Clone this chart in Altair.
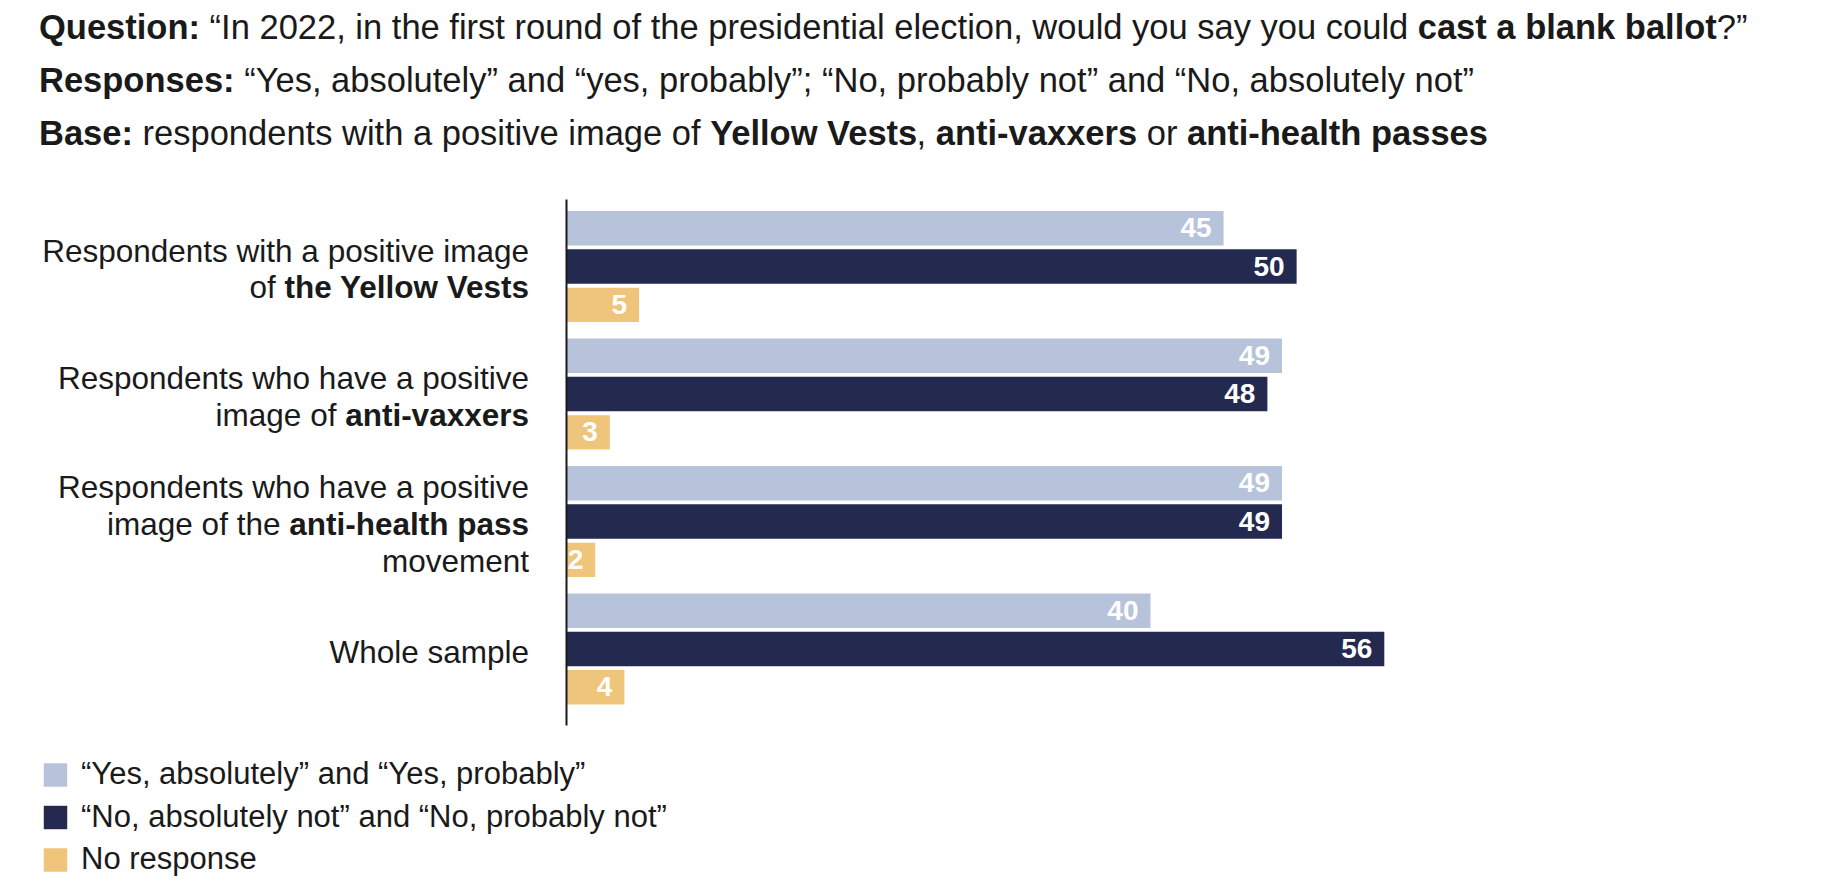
import altair as alt
import pandas as pd

# ---------------- data ----------------
groups = [
    "Respondents with a positive image of the Yellow Vests",
    "Respondents who have a positive image of anti-vaxxers",
    "Respondents who have a positive image of the anti-health pass movement",
    "Whole sample",
]
series = [
    "\u201cYes, absolutely\u201d and \u201cYes, probably\u201d",
    "\u201cNo, absolutely not\u201d and \u201cNo, probably not\u201d",
    "No response",
]
yes_vals = [45, 49, 49, 40]
no_vals = [50, 48, 49, 56]
nr_vals = [5, 3, 2, 4]
colors = ["#b6c3da", "#24294f", "#efc57c"]

# category label lines: (text, bold)
label_lines = [
    [[("Respondents with a positive image", False)],
     [("of ", False), ("the Yellow Vests", True)]],
    [[("Respondents who have a positive", False)],
     [("image of ", False), ("anti-vaxxers", True)]],
    [[("Respondents who have a positive", False)],
     [("image of the ", False), ("anti-health pass", True)],
     [("movement", False)]],
    [[("Whole sample", False)]],
]

title_lines = [
    [("Question:", True),
     (" \u201cIn 2022, in the first round of the presidential election, would you say you could ", False),
     ("cast a blank ballot", True), ("?\u201d", False)],
    [("Responses:", True),
     (" \u201cYes, absolutely\u201d and \u201cyes, probably\u201d; \u201cNo, probably not\u201d and \u201cNo, absolutely not\u201d", False)],
    [("Base:", True), (" respondents with a positive image of ", False), ("Yellow Vests", True),
     (", ", False), ("anti-vaxxers", True), (" or ", False), ("anti-health passes", True)],
]

# ---------------- layout / style ----------------
FONT = "Liberation Sans, Arial, sans-serif"
TXT = "#1a1a1a"
W, H = 1169, 526
XMAX = 80
PPU = W / XMAX
PAD = {"left": 558, "top": 191, "right": 94, "bottom": 163}
TITLE_SIZE = 34.5
LABEL_SIZE = 31.5
LEGEND_SIZE = 31
VALUE_SIZE = 28
LABEL_RIGHT = -37
LABEL_LH = 36.7
TITLE_X = -527
TITLE_BASE = [-160, -107, -54]

# Arial-compatible (Liberation Sans) advance widths, 1/1000 em
REG = dict(zip("abcdefghijklmnopqrstuvwxyz",
               [556, 556, 500, 556, 556, 278, 556, 556, 222, 222, 500, 222, 833,
                556, 556, 556, 556, 333, 500, 278, 556, 500, 722, 500, 500, 500]))
REG.update(dict(zip("ABCDEFGHIJKLMNOPQRSTUVWXYZ",
                    [667, 667, 722, 722, 667, 611, 778, 722, 278, 500, 667, 556, 833,
                     722, 778, 667, 778, 722, 667, 611, 722, 667, 944, 667, 667, 611])))
REG.update({" ": 278, ",": 278, ".": 278, ":": 278, ";": 278, "?": 556, "-": 333,
            "\u201c": 333, "\u201d": 333})
REG.update({d: 556 for d in "0123456789"})
BLD = dict(zip("abcdefghijklmnopqrstuvwxyz",
               [556, 611, 556, 611, 556, 333, 611, 611, 278, 278, 556, 278, 889,
                611, 611, 611, 611, 389, 556, 333, 611, 556, 778, 556, 556, 500]))
BLD.update(dict(zip("ABCDEFGHIJKLMNOPQRSTUVWXYZ",
                    [722, 722, 722, 722, 667, 611, 778, 722, 278, 556, 722, 611, 833,
                     722, 778, 667, 778, 722, 667, 611, 722, 667, 944, 667, 667, 611])))
BLD.update({" ": 278, ",": 278, ".": 278, ":": 333, ";": 333, "?": 611, "-": 333,
            "\u201c": 500, "\u201d": 500})
BLD.update({d: 556 for d in "0123456789"})
# approximate kerning pairs applied by the browser
KERN = {"Ye": -80, "Yo": -80, "Ya": -80, "Ve": -50, "Vo": -50, "Va": -50}


def tw(text, bold, size):
    t = BLD if bold else REG
    total = sum(t.get(c, 556) for c in text)
    total += sum(KERN.get(text[i:i + 2], 0) for i in range(len(text) - 1))
    return total / 1000.0 * size


# ---------------- bar data ----------------
rows = []
for gi, g in enumerate(groups):
    for s, vals in zip(series, [yes_vals, no_vals, nr_vals]):
        rows.append({"group": g, "series": s, "value": vals[gi]})
df = pd.DataFrame(rows)

y_enc = alt.Y("group:N", sort=groups,
              scale=alt.Scale(paddingInner=0.1294, paddingOuter=0.1275, align=0.37),
              axis=alt.Axis(title=None, labels=False, ticks=False, grid=False,
                            domain=True, domainColor=TXT, domainWidth=2, zindex=1))
yoff_enc = alt.YOffset("series:N", sort=series,
                       scale=alt.Scale(paddingInner=0.102, paddingOuter=0))
x_scale = alt.Scale(domain=[0, XMAX])

bars = alt.Chart(df).mark_bar(cornerRadius=0).encode(
    y=y_enc,
    yOffset=yoff_enc,
    x=alt.X("value:Q", scale=x_scale, axis=None),
    color=alt.Color("series:N", sort=series,
                    scale=alt.Scale(domain=series, range=colors),
                    legend=alt.Legend(title=None, orient="none", legendX=-526, legendY=560.5,
                                      direction="vertical", symbolType="square",
                                      symbolSize=550, symbolStrokeWidth=0, symbolOpacity=1,
                                      labelFont=FONT, labelFontSize=LEGEND_SIZE,
                                      labelColor=TXT, labelOffset=10, labelLimit=1000,
                                      rowPadding=10.5, padding=0)),
)

values = alt.Chart(df).mark_text(align="right", baseline="middle", dx=-12, dy=1,
                                 font=FONT, fontWeight="bold", fontSize=VALUE_SIZE,
                                 color="white").encode(
    y=y_enc, yOffset=yoff_enc,
    x=alt.X("value:Q", scale=x_scale, axis=None),
    text=alt.Text("value:Q"),
)

layers = [bars, values]

# ---------------- category labels ----------------
lab_rows = []
for g, lines in zip(groups, label_lines):
    n = len(lines)
    for i, segs in enumerate(lines):
        dy = round((i - (n - 1) / 2) * LABEL_LH + 13.5, 2)
        end = LABEL_RIGHT
        for text, bold in reversed(segs):
            shown = text.rstrip()
            trail = tw(text[len(shown):], bold, LABEL_SIZE)
            lab_rows.append({"group": g, "text": shown, "bold": bold, "dy": dy,
                             "xd": (end - trail) / PPU})
            end -= tw(text, bold, LABEL_SIZE)
lab_df = pd.DataFrame(lab_rows)
for (dy, bold), sub in lab_df.groupby(["dy", "bold"]):
    layers.append(
        alt.Chart(sub).mark_text(align="right", baseline="alphabetic", dy=float(dy),
                                 font=FONT, fontSize=LABEL_SIZE,
                                 fontWeight="bold" if bold else "normal", color=TXT).encode(
            y=y_enc, x=alt.X("xd:Q", scale=x_scale, axis=None), text="text:N")
    )

# ---------------- title lines ----------------
for li, segs in enumerate(title_lines):
    start = TITLE_X
    trows = []
    for text, bold in segs:
        shown = text.lstrip()
        lead = tw(text[:len(text) - len(shown)], bold, TITLE_SIZE)
        trows.append({"text": shown.rstrip(), "bold": bold, "xd": (start + lead) / PPU})
        start += tw(text, bold, TITLE_SIZE)
    tdf = pd.DataFrame(trows)
    for bold, sub in tdf.groupby("bold"):
        layers.append(
            alt.Chart(sub).mark_text(align="left", baseline="alphabetic",
                                     font=FONT, fontSize=TITLE_SIZE,
                                     fontWeight="bold" if bold else "normal",
                                     color=TXT).encode(
                x=alt.X("xd:Q", scale=x_scale, axis=None),
                y=alt.value(TITLE_BASE[li]), text="text:N")
        )

chart = alt.layer(*layers).properties(
    width=W, height=H, padding=PAD,
    autosize=alt.AutoSizeParams(type="none"),
    background="white",
).configure_view(stroke=None)

chart.save("out.html", embed_options={"renderer": "svg", "actions": False})
